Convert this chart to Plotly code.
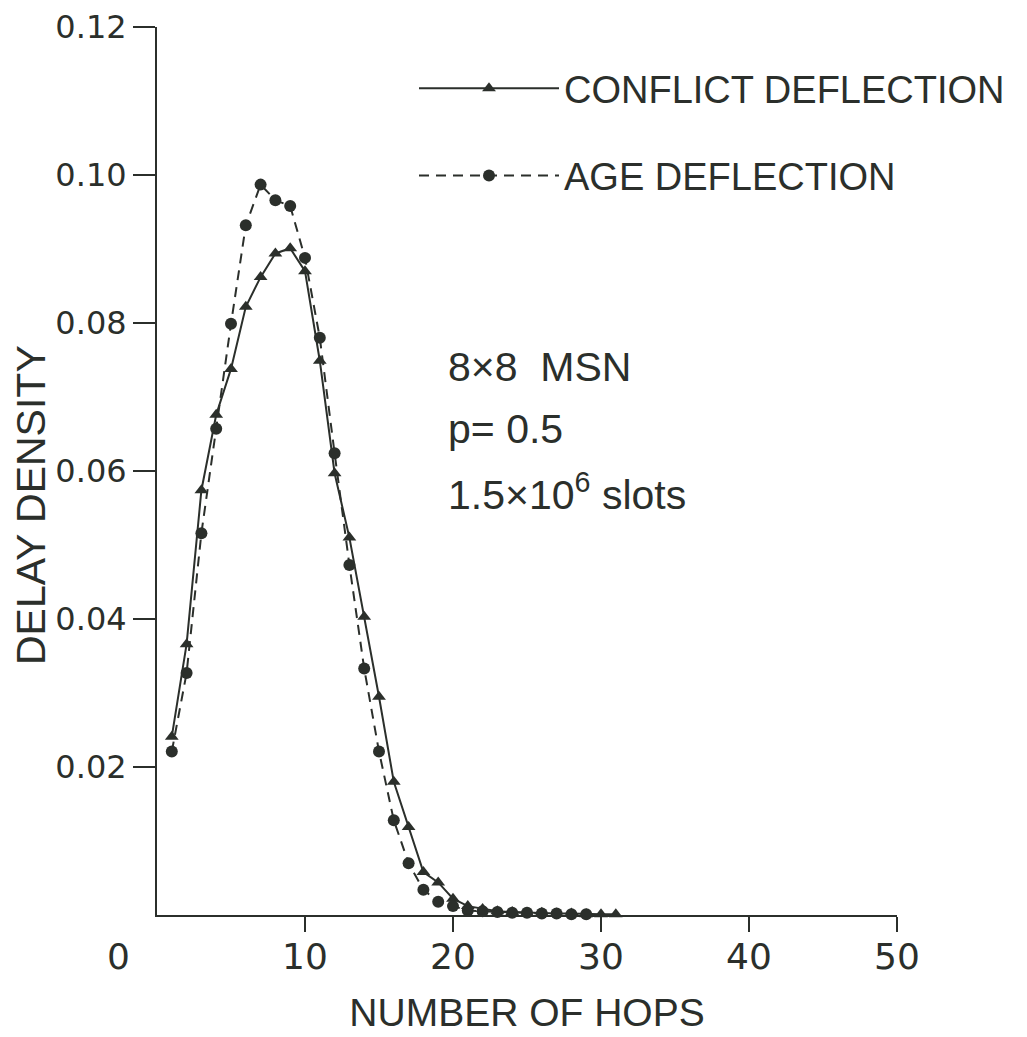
import plotly.graph_objects as go

hops_conflict = list(range(1, 32))
conflict = [0.0241, 0.0366, 0.0574, 0.0676, 0.0738, 0.0822, 0.0862, 0.0894, 0.0901, 0.0870,
            0.0749, 0.0597, 0.0510, 0.0403, 0.0295, 0.0180, 0.0119, 0.0058, 0.0044, 0.0022,
            0.0012, 0.0008, 0.0005, 0.0004, 0.0003, 0.0003, 0.0002, 0.0002, 0.0001, 0.0001, 0.0001]

hops_age = list(range(1, 30))
age = [0.0221, 0.0327, 0.0516, 0.0657, 0.0799, 0.0932, 0.0987, 0.0966, 0.0958, 0.0888,
       0.0780, 0.0624, 0.0473, 0.0333, 0.0221, 0.0128, 0.0070, 0.0034, 0.0018, 0.0012,
       0.0006, 0.0005, 0.0004, 0.0003, 0.0003, 0.0002, 0.0002, 0.0001, 0.0001]

x_ticks = [10, 20, 30, 40, 50]
y_ticks = [0.02, 0.04, 0.06, 0.08, 0.10, 0.12]
y_ticklabels = ["0.02", "0.04", "0.06", "0.08", "0.10", "0.12"]
info_lines = ["8×8  MSN", "p= 0.5", "1.5×10<sup>6</sup> slots"]

ink = "#2b2f2b"
sans = "Liberation Sans, Arial, sans-serif"
digits = "DejaVu Sans, sans-serif"

OFF = 8  # page body margin
W, H = 1027 - OFF, 1037 - OFF
L, T = 157 - OFF, 27 - OFF
R = W - (897 - OFF)
B = H - (915 - OFF)
PW, PH = W - L - R, H - T - B

def fx(xs):
    return (xs - OFF - L) / PW

def fy(ys):
    return (H - B - (ys - OFF)) / PH

fig = go.Figure()
fig.add_trace(go.Scatter(
    x=hops_conflict, y=conflict, mode="lines+markers", name="CONFLICT DEFLECTION",
    legendgroup="c",
    line=dict(color=ink, width=2),
    marker=dict(symbol="triangle-up", size=12, color=ink),
    cliponaxis=False,
))
fig.add_trace(go.Scatter(
    x=hops_age, y=age, mode="lines+markers", name="AGE DEFLECTION",
    legendgroup="a",
    line=dict(color=ink, width=2, dash="10px,7px"),
    marker=dict(symbol="circle", size=12, color=ink),
    cliponaxis=False,
))

for i, line in enumerate(info_lines):
    fig.add_annotation(text=line, xref="paper", yref="paper",
                       x=fx(446), y=fy(367 + 62.5 * i),
                       xanchor="left", yanchor="middle", align="left", showarrow=False,
                       font=dict(size=41, color=ink, family=sans))

fig.add_annotation(text="0", xref="paper", yref="paper", x=fx(118), y=fy(956),
                   xanchor="center", yanchor="middle", showarrow=False,
                   font=dict(size=36, color=ink, family=digits))

fig.add_annotation(text="DELAY DENSITY", xref="paper", yref="paper", x=fx(31), y=fy(505),
                   xanchor="center", yanchor="middle", textangle=-90, showarrow=False,
                   font=dict(size=41, color=ink, family=sans))

fig.update_layout(
    width=W, height=H,
    margin=dict(l=L, r=R, t=T, b=B),
    paper_bgcolor="white", plot_bgcolor="white",
    font=dict(family=sans, color=ink, size=30),
    showlegend=True,
    legend=dict(x=fx(414), y=fy(57), xanchor="left", yanchor="top",
                font=dict(size=38, color=ink, family=sans), bgcolor="rgba(0,0,0,0)",
                itemwidth=140, tracegroupgap=35, traceorder="grouped"),
    xaxis=dict(range=[0, 50], tickvals=x_ticks, ticks="outside", ticklen=15, tickwidth=2,
               tickcolor=ink, showline=True, linecolor=ink, linewidth=2, showgrid=False,
               zeroline=False, automargin=False, ticklabelstandoff=-6,
               tickfont=dict(size=36, family=digits, color=ink),
               title=dict(text="NUMBER OF HOPS", font=dict(size=39, family=sans, color=ink),
                          standoff=22)),
    yaxis=dict(range=[0, 0.12], tickvals=y_ticks, ticktext=y_ticklabels, ticks="outside",
               ticklen=22, tickwidth=2, tickcolor=ink, showline=True, linecolor=ink,
               linewidth=2, showgrid=False, zeroline=False, automargin=False,
               tickfont=dict(size=32, family=digits, color=ink)),
)

fig.write_html("out.html")
